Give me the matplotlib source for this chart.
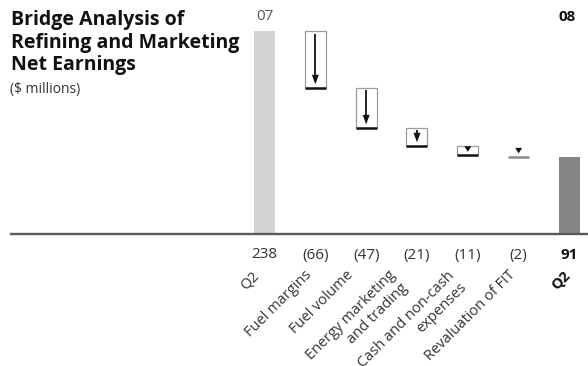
import matplotlib
matplotlib.use("Agg")
import matplotlib.pyplot as plt
from matplotlib.patches import Rectangle, Polygon

# ---- data ----
categories = ["Q2", "Fuel margins", "Fuel volume", "Energy marketing\nand trading",
              "Cash and non-cash\nexpenses", "Revaluation of FIT", "Q2"]
start_value = 238
changes = [-66, -47, -21, -11, -2]
end_value = 91
value_labels = ["238", "(66)", "(47)", "(21)", "(11)", "(2)", "91"]
year_labels = ["07", "08"]

# ---- layout constants (pixels) ----
W, H = 588, 366
X0_PX, DX_PX = 264.5, 50.83      # centre of first column, column step
BASE_PX, SCALE = 234.5, 0.853    # baseline (from top), px per $ million
BAR_W_PX = 21

plt.rcParams['font.family'] = ['Open Sans', 'DejaVu Sans']
fig = plt.figure(figsize=(W / 100, H / 100), dpi=100)
ax = fig.add_axes([0, 0, 1, 1])
ax.set_xlim(-X0_PX / DX_PX, (W - X0_PX) / DX_PX)
ax.set_ylim(-(H - BASE_PX) / SCALE, BASE_PX / SCALE)
ax.axis('off')

pxx = 1 / DX_PX
pxy = 1 / SCALE


def ty(py):
    """pixel row from top -> data y"""
    return (BASE_PX - py) / SCALE


bw = BAR_W_PX * pxx
n = len(categories)

# start and end bars
ax.bar([0], [start_value], width=bw, color='#d3d3d5', zorder=2)
ax.bar([n - 1], [end_value], width=bw, color='#858588', zorder=2)

# bridge boxes
running = start_value
for k, d in enumerate(changes):
    i = k + 1
    top = running
    bot = running + d
    running = bot
    left = i - bw / 2
    hpx = (top - bot) * SCALE
    if hpx > 4:
        ax.add_patch(Rectangle((left, bot), bw, top - bot, fill=False,
                               edgecolor='#9c9c9c', lw=0.9, zorder=3))
        ax.plot([left, left + bw], [bot, bot], color='#111111', lw=1.8,
                solid_capstyle='butt', zorder=4)
        tip = bot + 3.5 * pxy
        head_h = min(9.5, hpx - 4) * pxy
        head_w = 7 * pxx
        ax.add_patch(Polygon([[i - head_w / 2, tip + head_h], [i + head_w / 2, tip + head_h],
                              [i, tip]], closed=True, color='#111111', lw=0, zorder=5))
        shaft_top = top - 2.5 * pxy
        if shaft_top > tip + head_h:
            ax.plot([i, i], [shaft_top, tip + head_h * 0.5], color='#111111', lw=1.3,
                    solid_capstyle='butt', zorder=5)
    else:
        ax.plot([left, left + bw], [bot, bot], color='#8a8a8a', lw=1.8,
                solid_capstyle='butt', zorder=4)
        tip = bot + 3.5 * pxy
        head_h = 5.5 * pxy
        head_w = 7 * pxx
        ax.add_patch(Polygon([[i - head_w / 2, tip + head_h], [i + head_w / 2, tip + head_h],
                              [i, tip]], closed=True, color='#111111', lw=0, zorder=5))

# baseline
ax.axhline(0, xmin=11 / W, xmax=1, color='#5a5a5a', lw=1.7, zorder=6)

# value labels
for i, lab in enumerate(value_labels):
    bold = i == n - 1
    ax.text(i, ty(255), lab, ha='center', va='center', fontsize=11,
            color='#111111' if bold else '#333333',
            fontweight='bold' if bold else 'normal')

# category labels
label_dx = [-2, 0, -10, -6, 2, 0, 3]
for i, lab in enumerate(categories):
    bold = i == n - 1
    ax.text(i + label_dx[i] * pxx, ty(268), lab, rotation=45, ha='right', va='top',
            multialignment='right', fontsize=10.5,
            color='#111111' if bold else '#333333',
            fontweight='bold' if bold else 'normal', linespacing=1.2)

# year labels
ax.text(0, ty(17), year_labels[0], ha='center', va='center', fontsize=11,
        color='#555555')
ax.text(n - 1 - 2.5 * pxx, ty(17), year_labels[1], ha='center', va='center', fontsize=11,
        color='#111111', fontweight='bold')

# title
fig.text(11 / W, 1 - 10.5 / H, "Bridge Analysis of\nRefining and Marketing\nNet Earnings",
         ha='left', va='top', fontsize=14, fontweight='bold', color='#111111',
         linespacing=1.15)
fig.text(10 / W, 1 - 89 / H, "($ millions)", ha='left', va='center', fontsize=10,
         color='#333333')

fig.savefig("out.png", dpi=100)
